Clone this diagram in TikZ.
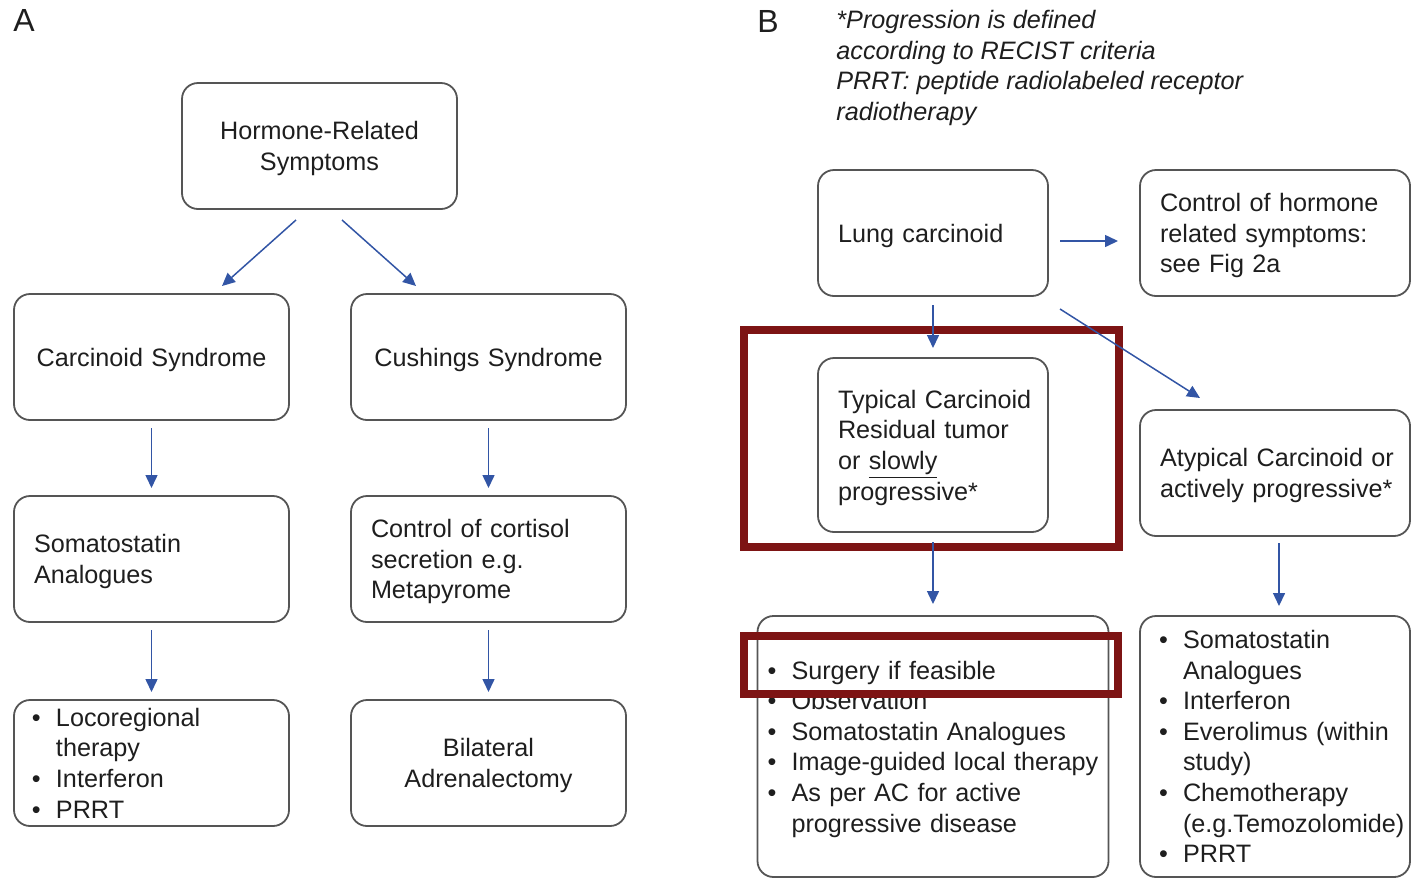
\documentclass[tikz,border=0pt]{standalone}
\usepackage{fontspec}
\setmainfont{Liberation Sans}
\usetikzlibrary{positioning,calc,arrows.meta}

\definecolor{boxline}{RGB}{85,85,85}
\definecolor{arrowblue}{RGB}{50,85,165}
\definecolor{markred}{RGB}{125,20,20}
\definecolor{txt}{RGB}{30,30,30}

\newcommand{\bodysize}{\fontsize{12.6}{15.3}\selectfont}
\newcommand{\itm}[1]{\makebox[12pt][l]{\textbullet}\mbox{#1}}
\newcommand{\cnt}[1]{\hspace*{12pt}\mbox{#1}}

\tikzset{
  tbox/.style={draw=boxline, line width=0.9pt, rounded corners=8pt,
    inner xsep=10pt, inner ysep=0pt, outer sep=0pt, minimum height=63pt,
    font=\bodysize, text=txt, align=left,
    execute at begin node={\rule{0pt}{11.8pt}},
    execute at end node={\rule[-2.7pt]{0pt}{2.7pt}}},
  colA/.style={tbox, text width=117.5pt},
  colL/.style={tbox, text width=95pt},
  colR/.style={tbox, text width=115pt},
  flow/.style={draw=arrowblue, line width=0.75pt,
    -{Triangle[length=6.5pt,width=6pt]}},
  hilite/.style={draw=markred, line width=4pt},
}

\begin{document}
\begin{tikzpicture}[x=0.5pt, y=-0.5pt]
  \useasboundingbox (0,0) rectangle (1411,879);
  \clip (0,0) rectangle (1411,879);

  \node[anchor=north west, inner sep=0, font=\fontsize{16}{19}\selectfont, text=txt]
  (labA) at (13,9) {A};
  \node[anchor=north west, inner sep=0, font=\fontsize{16}{19}\selectfont, text=txt]
  (labB) at (757,10) {B};

  \node[colA, align=center] (HR) at (319.5,146) {Hormone-Related\\Symptoms};
  \node[colA, align=center] (CS) at (151.5,357) {Carcinoid Syndrome};
  \node[colA, align=center, right=31pt of CS] (CuS) {Cushings Syndrome};
  \node[colA, below=38pt of CS] (SA) {Somatostatin\\Analogues};
  \node[colA, below=38pt of CuS] (CC) {Control of cortisol\\secretion e.g.\\Metapyrome};
  \node[colA, inner xsep=9pt, text width=119.5pt, below=39pt of SA]
  (LT) {\itm{Locoregional}\\\cnt{therapy}\\\itm{Interferon}\\\itm{PRRT}};
  \node[colA, align=center, below=39pt of CC] (BA) {Bilateral\\Adrenalectomy};

  \draw[flow] ($(HR.south)+(-23.5,11)$) -- ($(CS.north)+(70.5,-8)$);
  \draw[flow] ($(HR.south)+(22.5,11)$) -- ($(CuS.north)+(-72.5,-8)$);
  \draw[flow] ($(CS.south)+(0,8)$) -- ($(SA.north)+(0,-8)$);
  \draw[flow] ($(CuS.south)+(0,8)$) -- ($(CC.north)+(0,-8)$);
  \draw[flow] ($(SA.south)+(0,8)$) -- ($(LT.north)+(0,-8)$);
  \draw[flow] ($(CC.south)+(0,8)$) -- ($(BA.north)+(0,-8)$);

  \node[anchor=north west, inner sep=0, align=left, text=txt,
    font=\bodysize\itshape] (note) at (836,10)
  {*Progression is defined\\according to RECIST criteria\\PRRT: peptide radiolabeled receptor\\radiotherapy};

  \node[colL] (LC) at (933,233) {Lung carcinoid};
  \node[colR, right=46pt of LC] (CH) {Control of hormone\\related symptoms:\\see Fig 2a};
  \node[colL, minimum height=87pt, below=31pt of LC]
  (TC) {\mbox{Typical Carcinoid}\\\mbox{Residual tumor}\\or \underline{slowly}\\progressive*};
  \node[colR, below=57pt of CH] (AC) {\mbox{Atypical Carcinoid or}\\\mbox{actively progressive*}};
  \node[tbox, inner xsep=5pt, text width=165.5pt, minimum height=130.5pt, below=42pt of TC]
  (BL) {\itm{Surgery if feasible}\\\itm{Observation}\\\itm{Somatostatin Analogues}\\\itm{Image-guided local therapy}\\\itm{As per AC for active}\\\cnt{progressive disease}};
  \node[tbox, inner xsep=9.5pt, text width=116pt, minimum height=130.5pt, below=40pt of AC]
  (BR) {\itm{Somatostatin}\\\cnt{Analogues}\\\itm{Interferon}\\\itm{Everolimus (within}\\\cnt{study)}\\\itm{Chemotherapy}\\\cnt{(e.g.Temozolomide)}\\\itm{PRRT}};

  \draw[hilite] (744,330) rectangle (1119,546.5);
  \draw[hilite] (744,635.5) rectangle (1118,693.5);

  \draw[flow] ($(LC.east)+(12,8)$) -- ($(CH.west)+(-22,8)$);
  \draw[flow] ($(LC.south)+(0,9)$) -- ($(TC.north)+(0,-10)$);
  \draw[flow] ($(LC.south east)+(12,13)$) -- ($(AC.north west)+(60,-12)$);
  \draw[flow] ($(TC.south)+(0,10)$) -- ($(BL.north)+(0,-12)$);
  \draw[flow] ($(AC.south)+(4,7)$) -- ($(BR.north)+(4,-10)$);
\end{tikzpicture}
\end{document}
